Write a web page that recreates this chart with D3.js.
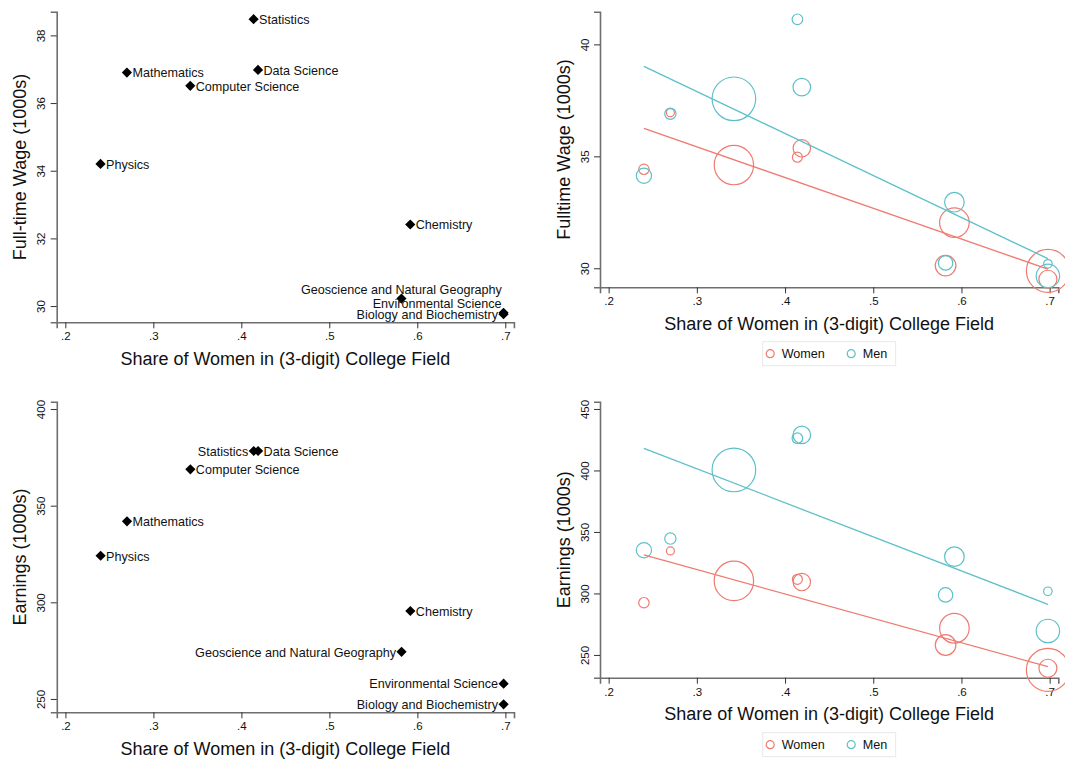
<!DOCTYPE html>
<html>
<head>
<meta charset="utf-8">
<script src="https://cdn.jsdelivr.net/npm/d3@7/dist/d3.min.js"></script>
<style>
    body { margin: 0; background: #fff; }
    text { font-family: Helvetica, Arial, 'Liberation Sans', sans-serif; }
</style>
</head>
<body>
<div id="chart"></div>
<script>
// fields, in the same order in every array below
let fields = ['Physics', 'Mathematics', 'Computer Science', 'Statistics', 'Data Science',
    'Chemistry', 'Geoscience and Natural Geography', 'Environmental Science', 'Biology and Biochemistry'];
let shareWomen = [0.240, 0.270, 0.342, 0.414, 0.419, 0.592, 0.582, 0.698, 0.698];

let wageAll = [34.20, 36.90, 36.51, 38.48, 36.98, 32.41, 30.22, 29.80, 29.76];
let earnAll = [324.1, 341.9, 368.8, 378.3, 378.3, 295.5, 274.4, 257.9, 247.2];

let wageWomen = [34.42, 36.95, 34.61, 34.96, 35.36, 32.04, 30.12, 29.51, 29.88];
let wageMen = [34.13, 36.90, 37.57, 41.12, 38.09, 32.95, 30.24, 30.20, 29.66];
let earnWomen = [292.5, 334.6, 310.2, 311.5, 309.3, 271.7, 258.1, 239.2, 237.8];
let earnMen = [335.1, 344.6, 400.4, 426.2, 428.9, 329.9, 298.8, 301.8, 269.5];

// bubble weights (graduates)
let gradsWomen = [27, 16, 388, 25, 76, 219, 106, 81, 462];
let gradsMen = [58, 32, 475, 28, 77, 96, 52, 18, 137];

// fitted lines (end points)
let fitX = [0.240, 0.698];
let wageFitWomen = [36.25, 29.96];
let wageFitMen = [39.02, 30.43];
let earnFitWomen = [331.3, 240.5];
let earnFitMen = [418.0, 291.2];

let xTicks = [0.2, 0.3, 0.4, 0.5, 0.6, 0.7];
let wageTicks = [30, 32, 34, 36, 38];
let earnTicks = [250, 300, 350, 400];
let wageGenderTicks = [30, 35, 40];
let earnGenderTicks = [250, 300, 350, 400, 450];
let seriesNames = ['Women', 'Men'];

// label placement for the marker labels
let wageLabelPos = ['r', 'r', 'r', 'r', 'r', 'r', 't', 'tl', 'l'];
let earnLabelPos = ['r', 'r', 'r', 'l', 'r', 'r', 'l', 'l', 'l'];

let colWomen = '#ef7b70',
    colMen = '#5dc0c8';

let width = 1065, height = 760;
let svg = d3.select('#chart').append('svg')
    .attr('width', width)
    .attr('height', height);

let fmtShare = d => d3.format('.1f')(d).replace(/^0/, '');
let xDomain = [0.1902, 0.7098];

let rScale = d3.scaleSqrt()
    .domain([0, d3.max(gradsMen.concat(gradsWomen))])
    .range([0, 21.8]);

function drawFrame(p) {
    let g = svg.append('g');
    let x = d3.scaleLinear().domain(xDomain).range([p.left, p.right]);
    let y = d3.scaleLinear().domain(p.yDomain).range([p.bottom, p.top]);

    let xa = g.append('g')
        .attr('transform', `translate(0, ${p.bottom})`)
        .call(d3.axisBottom(x).tickValues(xTicks).tickSizeOuter(0).tickSize(6).tickPadding(4).tickFormat(fmtShare));
    let ya = g.append('g')
        .attr('transform', `translate(${p.left}, 0)`)
        .call(d3.axisLeft(y).tickValues(p.yTicks).tickSizeOuter(0).tickSize(6));

    [xa, ya].forEach(a => {
        a.select('.domain').attr('stroke', '#6e6e6e').attr('stroke-width', 1.6);
        a.selectAll('.tick line').attr('stroke', '#333');
        a.selectAll('.tick text').attr('fill', '#111').style('font-size', '11.5px')
            .style('font-family', "Helvetica, Arial, 'Liberation Sans', sans-serif");
    });

    ya.selectAll('.tick text')
        .attr('x', 0)
        .attr('y', 0)
        .attr('dy', 0)
        .attr('text-anchor', 'middle')
        .attr('transform', 'translate(-11.5, 0) rotate(-90)');

    g.append('text')
        .attr('x', (p.left + p.right) / 2)
        .attr('y', p.bottom + 42.5)
        .attr('text-anchor', 'middle')
        .style('font-size', '18px')
        .attr('fill', '#111')
        .text('Share of Women in (3-digit) College Field');

    g.append('text')
        .attr('transform', `translate(${p.left - 30.5}, ${(p.top + p.bottom) / 2}) rotate(-90)`)
        .attr('text-anchor', 'middle')
        .style('font-size', '18px')
        .attr('fill', '#111')
        .text(p.yTitle);

    return {g, x, y};
}

function drawLabelled(p, values, labelPos) {
    let {g, x, y} = drawFrame(p);
    let pts = fields.map((f, i) => ({name: f, sx: shareWomen[i], v: values[i], pos: labelPos[i]}));

    g.selectAll('.marker')
        .data(pts)
        .join('path')
        .attr('class', 'marker')
        .attr('d', d3.symbol().type(d3.symbolSquare).size(52))
        .attr('transform', d => `translate(${x(d.sx)}, ${y(d.v)}) rotate(45)`)
        .attr('fill', '#000');

    g.selectAll('.mlabel')
        .data(pts)
        .join('text')
        .attr('class', 'mlabel')
        .attr('x', d => {
            if (d.pos === 'r') return x(d.sx) + 5.5;
            if (d.pos === 'l') return x(d.sx) - 5.5;
            if (d.pos === 'tl') return x(d.sx) - 2;
            return x(d.sx);
        })
        .attr('y', d => (d.pos === 't' || d.pos === 'tl') ? y(d.v) - 9.3 : y(d.v))
        .attr('dy', '0.38em')
        .attr('text-anchor', d => d.pos === 'r' ? 'start' : (d.pos === 't' ? 'middle' : 'end'))
        .style('font-size', '12.6px')
        .attr('fill', '#111')
        .text(d => d.name);
}

function drawBubbles(p, women, men, fitWomen, fitMen) {
    let {g, x, y} = drawFrame(p);
    let series = [
        {name: seriesNames[0], col: colWomen, vals: women, w: gradsWomen, fit: fitWomen},
        {name: seriesNames[1], col: colMen, vals: men, w: gradsMen, fit: fitMen}
    ];

    series.forEach(s => {
        let pts = fields.map((f, i) => ({sx: shareWomen[i], v: s.vals[i], w: s.w[i]}));
        g.append('g')
            .selectAll('circle')
            .data(pts)
            .join('circle')
            .attr('cx', d => x(d.sx))
            .attr('cy', d => y(d.v))
            .attr('r', d => rScale(d.w))
            .attr('fill', 'none')
            .attr('stroke', s.col)
            .attr('stroke-width', 1.2);
    });

    series.forEach(s => {
        g.append('path')
            .datum(fitX.map((fx, i) => [fx, s.fit[i]]))
            .attr('d', d3.line().x(d => x(d[0])).y(d => y(d[1])))
            .attr('fill', 'none')
            .attr('stroke', s.col)
            .attr('stroke-width', 1.3);
    });

    // legend
    let lg = g.append('g')
        .attr('transform', `translate(${p.legendX}, ${p.legendY})`);
    lg.append('rect')
        .attr('width', 133)
        .attr('height', 24)
        .attr('fill', '#fff')
        .attr('stroke', '#e8e8e8');
    let item = lg.selectAll('.item')
        .data(series)
        .join('g')
        .attr('class', 'item')
        .attr('transform', (d, i) => `translate(${i === 0 ? 7.5 : 88.5}, 12)`);
    item.append('circle')
        .attr('r', 4)
        .attr('fill', 'none')
        .attr('stroke', d => d.col)
        .attr('stroke-width', 1.2);
    item.append('text')
        .attr('x', 11.5)
        .attr('dy', '0.36em')
        .style('font-size', '12.6px')
        .attr('fill', '#111')
        .text(d => d.name);
}

drawLabelled({left: 56.7, right: 513.9, top: 11.7, bottom: 322.3,
    yDomain: [29.52, 38.70], yTicks: wageTicks, yTitle: 'Full-time Wage (1000s)'}, wageAll, wageLabelPos);

drawLabelled({left: 56.8, right: 514, top: 401.7, bottom: 712.3,
    yDomain: [243.1, 403.8], yTicks: earnTicks, yTitle: 'Earnings (1000s)'}, earnAll, earnLabelPos);

drawBubbles({left: 600, right: 1058.3, top: 11.7, bottom: 287.3,
    yDomain: [29.15, 41.46], yTicks: wageGenderTicks, yTitle: 'Fulltime Wage (1000s)',
    legendX: 762.7, legendY: 341.7}, wageWomen, wageMen, wageFitWomen, wageFitMen);

drawBubbles({left: 600, right: 1058.3, top: 401.7, bottom: 677.7,
    yDomain: [231.5, 455.9], yTicks: earnGenderTicks, yTitle: 'Earnings (1000s)',
    legendX: 762.7, legendY: 732.7}, earnWomen, earnMen, earnFitWomen, earnFitMen);
</script>
</body>
</html>
